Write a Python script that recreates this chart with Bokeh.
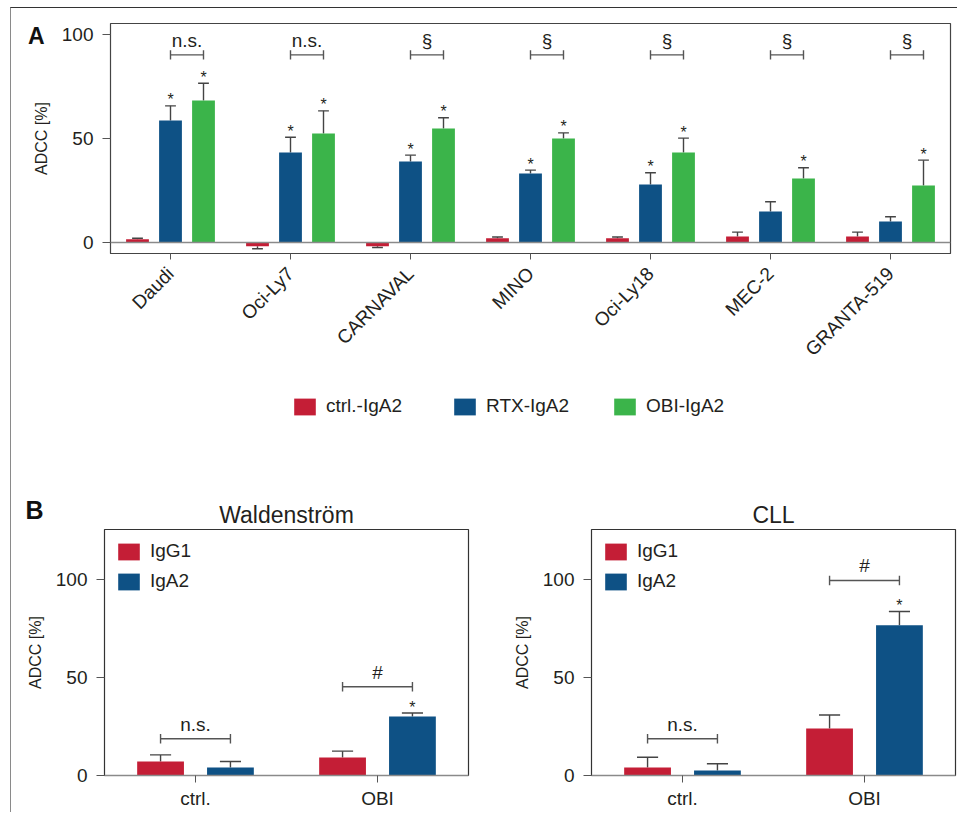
import math
from bokeh.plotting import figure
from bokeh.models import (ColumnDataSource, Legend, LegendItem, Span,
                          FixedTicker, FactorRange, Range1d, LinearAxis)
from bokeh.transform import dodge
from bokeh.layouts import column, row
from bokeh.embed import file_html
from bokeh.resources import INLINE
from bokeh.core.properties import value

# ---------------- data (panel A) ----------------
cell_lines = ["Daudi", "Oci-Ly7", "CARNAVAL", "MINO", "Oci-Ly18", "MEC-2", "GRANTA-519"]
ctrl_iga2 = [1.5, -1.8, -1.8, 2.0, 2.0, 2.9, 2.9]
ctrl_iga2_err = [0.5, 1.2, 0.6, 0.6, 0.6, 2.1, 2.1]
rtx_iga2 = [58.7, 43.3, 38.9, 33.2, 27.9, 14.9, 10.1]
rtx_iga2_err = [7.0, 7.3, 3.1, 1.6, 5.6, 4.7, 2.3]
obi_iga2 = [68.3, 52.4, 54.8, 50.0, 43.3, 30.8, 27.4]
obi_iga2_err = [8.3, 10.9, 5.2, 2.7, 6.9, 5.1, 12.2]
rtx_star = [True, True, True, True, True, False, False]
obi_star = [True, True, True, True, True, True, True]
rtx_vs_obi = ["n.s.", "n.s.", "§", "§", "§", "§", "§"]
a_series = ["ctrl.-IgA2", "RTX-IgA2", "OBI-IgA2"]
a_yticks = [0, 50, 100]

# ---------------- data (panel B) ----------------
groups = ["ctrl.", "OBI"]
b_series = ["IgG1", "IgA2"]
b_titles = ["Waldenström", "CLL"]
wald_igg1 = [7.1, 9.2]
wald_igg1_err = [3.4, 3.2]
wald_iga2 = [4.1, 30.1]
wald_iga2_err = [3.0, 1.7]
cll_igg1 = [4.1, 24.0]
cll_igg1_err = [5.2, 6.8]
cll_iga2 = [2.6, 76.5]
cll_iga2_err = [3.4, 7.0]
b_sig = ["n.s.", "#"]
b_iga2_star = [False, True]
wald_bracket_y = [18.7, 45.2]
cll_bracket_y = [18.7, 99.3]
b_yticks = [0, 50, 100]

FONT = "Liberation Sans"
TXT = "#231F20"
RED, BLUE, GREEN = "#C41E36", "#0E5185", "#3BB44A"
ERRC = "#444444"

# ---------------- layout constants (page pixels) ----------------
ORIGIN_X, ORIGIN_Y = 11, 8           # top-left of the content box
A_LEFT, A_FRAME_W = 99, 840
A_TOP, A_FRAME_H, A_BOTTOM = 15, 230, 125
STRIP_H = 149
B_LEFT1, B_FW, B_RIGHT1 = 93, 364, 33
B_LEFT2, B_RIGHT2 = 90, 2
B_TOP, B_FH, B_BOTTOM = 2, 246, 37


def tops(vals, errs):
    return [v + e if v >= 0 else v - e for v, e in zip(vals, errs)]


def style_yaxis(p, ticks):
    ax = p.yaxis[0]
    ax.ticker = FixedTicker(ticks=ticks)
    ax.minor_tick_line_color = None
    ax.major_tick_in = 0
    ax.major_tick_out = 8
    ax.major_tick_line_color = "#555555"
    ax.axis_line_color = None
    ax.major_label_text_font = FONT
    ax.major_label_text_font_size = "19px"
    ax.major_label_text_color = TXT
    ax.major_label_standoff = 9
    ax.axis_label = "ADCC [%]"
    ax.axis_label_text_font = FONT
    ax.axis_label_text_font_size = "16px"
    ax.axis_label_text_font_style = "normal"
    ax.axis_label_text_color = TXT
    ax.axis_label_standoff = 9


def letter_axis(tick, letter, size, standoff):
    return LinearAxis(ticker=FixedTicker(ticks=[tick]), major_label_overrides={tick: letter},
                      axis_line_color=None, major_tick_line_color=None,
                      minor_tick_line_color=None, major_tick_out=0, major_tick_in=0,
                      major_label_standoff=standoff, major_label_text_font=FONT,
                      major_label_text_font_size=size, major_label_text_font_style="bold",
                      major_label_text_color="#111111")


def errorbars(p, src, xcat, off, valcol, topcol, half):
    xr = p.x_range
    p.segment(x0=dodge(xcat, off, range=xr), y0=valcol,
              x1=dodge(xcat, off, range=xr), y1=topcol,
              source=src, line_color=ERRC, line_width=1.4)
    p.segment(x0=dodge(xcat, off - half, range=xr), y0=topcol,
              x1=dodge(xcat, off + half, range=xr), y1=topcol,
              source=src, line_color=ERRC, line_width=1.4)


# ================= panel A =================
top = figure(x_range=FactorRange(factors=cell_lines, range_padding=0),
             y_range=Range1d(-5.3, 105.3),
             frame_width=A_FRAME_W, frame_height=A_FRAME_H,
             min_border_left=A_LEFT, min_border_right=2,
             min_border_top=A_TOP, min_border_bottom=A_BOTTOM,
             output_backend="svg", toolbar_location=None,
             background_fill_color="white", border_fill_color="white",
             outline_line_color="#444444", outline_line_width=1.2)
top.grid.visible = False
style_yaxis(top, a_yticks)
top.add_layout(letter_axis(99.3, "A", "23px", -15), "left")

xa = top.xaxis[0]
xa.major_label_orientation = math.pi / 4
xa.major_label_text_font = FONT
xa.major_label_text_font_size = "19px"
xa.major_label_text_color = TXT
xa.major_tick_in = 0
xa.major_tick_out = 6
xa.major_tick_line_color = "#555555"
xa.axis_line_color = "#444444"
xa.major_label_standoff = 11

srcA = ColumnDataSource(dict(
    cat=cell_lines, idx=list(range(len(cell_lines))),
    ctrl=ctrl_iga2, ctrl_top=tops(ctrl_iga2, ctrl_iga2_err),
    rtx=rtx_iga2, rtx_top=tops(rtx_iga2, rtx_iga2_err),
    obi=obi_iga2, obi_top=tops(obi_iga2, obi_iga2_err),
    sig=rtx_vs_obi,
))

OFF = 0.275
BW = 0.19
HALF = 0.045
top.add_layout(Span(location=0, dimension="width", line_color="#8a8a8a", line_width=1.5))

errorbars(top, srcA, "cat", -OFF, "ctrl", "ctrl_top", HALF)
errorbars(top, srcA, "cat", 0, "rtx", "rtx_top", HALF)
errorbars(top, srcA, "cat", OFF, "obi", "obi_top", HALF)

series_cols = [("ctrl", -OFF, RED), ("rtx", 0, BLUE), ("obi", OFF, GREEN)]
for col, o, c in series_cols:
    top.vbar(x=dodge("cat", o, range=top.x_range), top=col, bottom=0, width=BW,
             source=srcA, fill_color=c, line_color=None)

# significance brackets
BR_Y = 90.2
top.segment(x0=dodge("cat", 0, range=top.x_range), y0=BR_Y,
            x1=dodge("cat", OFF, range=top.x_range), y1=BR_Y,
            source=srcA, line_color="#555555", line_width=1.4)
for o in (0, OFF):
    top.segment(x0=dodge("cat", o, range=top.x_range), y0=BR_Y - 2.2,
                x1=dodge("cat", o, range=top.x_range), y1=BR_Y + 2.2,
                source=srcA, line_color="#555555", line_width=1.4)
top.text(x=dodge("cat", OFF / 2, range=top.x_range), y=BR_Y + 6.8, text="sig",
         source=srcA, text_font=value(FONT), text_font_size="19px",
         text_align="center", text_baseline="middle", text_color=TXT)

# asterisks
rt = tops(rtx_iga2, rtx_iga2_err)
ot = tops(obi_iga2, obi_iga2_err)
star_rtx = ColumnDataSource(dict(cat=[c for c, s in zip(cell_lines, rtx_star) if s],
                                 y=[t for t, s in zip(rt, rtx_star) if s],
                                 t=["*" for s in rtx_star if s]))
star_obi = ColumnDataSource(dict(cat=[c for c, s in zip(cell_lines, obi_star) if s],
                                 y=[t for t, s in zip(ot, obi_star) if s],
                                 t=["*" for s in obi_star if s]))
for s, o in ((star_rtx, 0), (star_obi, OFF)):
    top.text(x=dodge("cat", o, range=top.x_range), y="y", text="t", source=s,
             text_font=value(FONT), text_font_size="16px", text_align="center",
             text_baseline="alphabetic", text_color=TXT, y_offset=-6)

# ================= strip between the panels: legend of A, "B", panel titles =========
strip_top_y = ORIGIN_Y + A_TOP + A_FRAME_H + A_BOTTOM
strip_bot_y = strip_top_y + STRIP_H
strip_left_x = ORIGIN_X + A_LEFT
strip = figure(x_range=Range1d(strip_left_x, strip_left_x + A_FRAME_W),
               y_range=Range1d(strip_bot_y, strip_top_y),   # page pixel coordinates
               frame_width=A_FRAME_W, frame_height=STRIP_H,
               min_border_left=A_LEFT, min_border_right=2, min_border_top=0,
               min_border_bottom=0, x_axis_type=None, y_axis_type=None,
               output_backend="svg", toolbar_location=None, outline_line_color=None,
               background_fill_color="white", border_fill_color="white")
strip.grid.visible = False
# legend keys: the panel-A bars, drawn on an off-screen y range of this strip
strip.extra_y_ranges = {"offscreen": Range1d(1000, 1100)}
keys = [strip.vbar(x="idx", top=col, bottom=0, width=BW, source=srcA,
                   fill_color=c, line_color=None, y_range_name="offscreen")
        for col, o, c in series_cols]
legA = Legend(items=[LegendItem(label=lab, renderers=[r]) for lab, r in zip(a_series, keys)],
              orientation="horizontal", location=(181, strip_bot_y - 417),
              glyph_width=27, glyph_height=21, label_standoff=8, spacing=2,
              label_width=123, padding=0, margin=0,
              border_line_color=None, background_fill_alpha=0,
              label_text_font=FONT, label_text_font_size="19px", label_text_color=TXT)
strip.add_layout(legA)
strip.add_layout(letter_axis(509.5, "B", "25px", 67), "left")

b_frame_left1 = ORIGIN_X + B_LEFT1
b_frame_left2 = ORIGIN_X + B_LEFT1 + B_FW + B_RIGHT1 + B_LEFT2
title_src = ColumnDataSource(dict(x=[b_frame_left1 + B_FW / 2, b_frame_left2 + B_FW / 2],
                                  y=[strip_bot_y - 13, strip_bot_y - 13],
                                  t=b_titles))
strip.text(x="x", y="y", text="t", source=title_src, text_font=value(FONT),
           text_font_size="23px", text_align="center", text_baseline="alphabetic",
           text_color=TXT)


# ================= panel B =================
def make_b(igg1, igg1_err, iga2, iga2_err, bracket_y, mbl, fw, mbr):
    p = figure(x_range=FactorRange(factors=groups, range_padding=0),
               y_range=Range1d(0, 125.3),
               frame_width=fw, frame_height=B_FH,
               min_border_left=mbl, min_border_right=mbr,
               min_border_top=B_TOP, min_border_bottom=B_BOTTOM,
               output_backend="svg", toolbar_location=None,
               background_fill_color="white", border_fill_color="white",
               outline_line_color="#333333", outline_line_width=1.2)
    p.grid.visible = False
    style_yaxis(p, b_yticks)
    xb = p.xaxis[0]
    xb.major_label_text_font = FONT
    xb.major_label_text_font_size = "19px"
    xb.major_label_text_color = TXT
    xb.major_tick_in = 0
    xb.major_tick_out = 7
    xb.major_tick_line_color = "#555555"
    xb.axis_line_color = "#8a8a8a"
    xb.axis_line_width = 1.5
    xb.major_label_standoff = 5

    src = ColumnDataSource(dict(g=groups, igg1=igg1, igg1_top=tops(igg1, igg1_err),
                                iga2=iga2, iga2_top=tops(iga2, iga2_err)))
    off, bw, half = 0.192, 0.257, 0.058
    errorbars(p, src, "g", -off, "igg1", "igg1_top", half)
    errorbars(p, src, "g", off, "iga2", "iga2_top", half)
    r1 = p.vbar(x=dodge("g", -off, range=p.x_range), top="igg1", bottom=0, width=bw,
                source=src, fill_color=RED, line_color=None)
    r2 = p.vbar(x=dodge("g", off, range=p.x_range), top="iga2", bottom=0, width=bw,
                source=src, fill_color=BLUE, line_color=None)
    bsrc = ColumnDataSource(dict(g=groups, by=bracket_y,
                                 lo=[b - 2.4 for b in bracket_y],
                                 hi=[b + 2.4 for b in bracket_y],
                                 ty=[b + 7.5 for b in bracket_y], sig=b_sig))
    p.segment(x0=dodge("g", -off, range=p.x_range), y0="by",
              x1=dodge("g", off, range=p.x_range), y1="by",
              source=bsrc, line_color="#555555", line_width=1.4)
    for o in (-off, off):
        p.segment(x0=dodge("g", o, range=p.x_range), y0="lo",
                  x1=dodge("g", o, range=p.x_range), y1="hi",
                  source=bsrc, line_color="#555555", line_width=1.4)
    p.text(x=dodge("g", 0, range=p.x_range), y="ty", text="sig", source=bsrc,
           text_font=value(FONT), text_font_size="19px", text_align="center",
           text_baseline="middle", text_color=TXT)
    at = tops(iga2, iga2_err)
    ssrc = ColumnDataSource(dict(g=[g for g, s in zip(groups, b_iga2_star) if s],
                                 y=[t for t, s in zip(at, b_iga2_star) if s],
                                 t=["*" for s in b_iga2_star if s]))
    p.text(x=dodge("g", off, range=p.x_range), y="y", text="t", source=ssrc,
           text_font=value(FONT), text_font_size="16px", text_align="center",
           text_baseline="alphabetic", text_color=TXT, y_offset=-6)
    leg = Legend(items=[LegendItem(label=b_series[0], renderers=[r1]),
                        LegendItem(label=b_series[1], renderers=[r2])],
                 location="top_left", glyph_width=27, glyph_height=21, label_standoff=8,
                 spacing=8, padding=0, margin=11, border_line_color=None,
                 background_fill_alpha=0, label_text_font=FONT,
                 label_text_font_size="19px", label_text_color=TXT)
    p.add_layout(leg)
    return p


left = make_b(wald_igg1, wald_igg1_err, wald_iga2, wald_iga2_err,
              wald_bracket_y, B_LEFT1, B_FW, B_RIGHT1)
right = make_b(cll_igg1, cll_igg1_err, cll_iga2, cll_iga2_err,
               cll_bracket_y, B_LEFT2, B_FW, B_RIGHT2)

layout = column(top, strip, row(left, right), margin=(7, 0, 0, 10),
                styles={"border-top": "1.5px solid #333333",
                        "border-left": "1.5px solid #8a8a8a"})

open("out.html", "w").write(file_html(layout, INLINE))
